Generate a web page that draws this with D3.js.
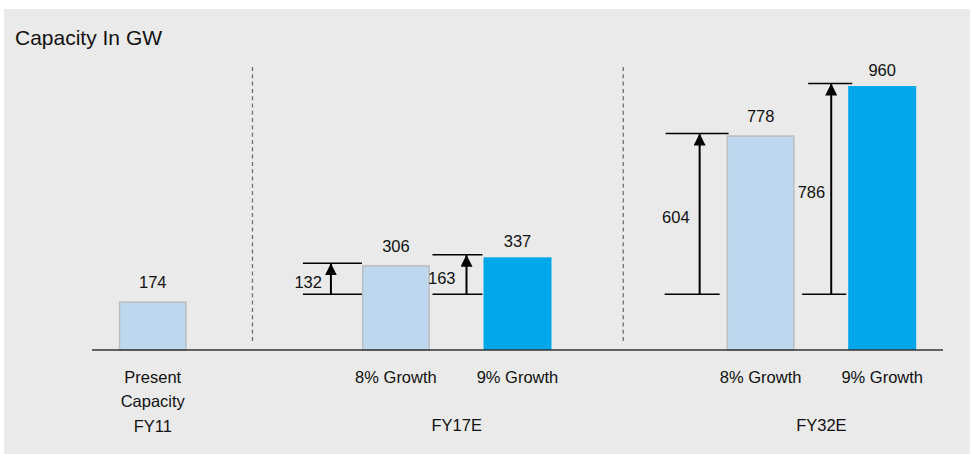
<!DOCTYPE html>
<html>
<head>
<meta charset="utf-8">
<script src="https://cdn.jsdelivr.net/npm/d3@7"></script>
<style>
  html, body { margin: 0; padding: 0; background: #fff; }
  svg text { font-family: "Liberation Sans", Arial, Helvetica, sans-serif; fill: #111; }
</style>
</head>
<body>
<svg id="chart" width="971" height="454"></svg>
<script>
// Data
const title = "Capacity In GW";
const barLabels = ["Present\nCapacity", "8% Growth", "9% Growth", "8% Growth", "9% Growth"];
const barValues = [174, 306, 337, 778, 960];
const barKinds = ["light", "light", "dark", "light", "dark"];
const barSlots = [0, 2, 3, 5, 6];          // position on a 7 slot grid
const groupNames = ["FY11", "FY17E", "FY32E"];
const groupSlots = [0, 2.5, 5.5];
const dividerSlots = [0.82, 3.87];
const increments = [132, 163, 604, 786];   // arrow labels
const incrementBars = [1, 2, 3, 4];        // which bar each arrow points at
const incrementFrom = [203, 203, 203, 203]; // arrow foot level, GW

const svg = d3.select("#chart");
const W = 971, H = 454;

// panel
svg.append("rect")
    .attr("x", 4).attr("y", 9)
    .attr("width", W - 5).attr("height", H - 9)
    .attr("fill", "#eaeaea");

svg.append("text")
    .attr("x", 15).attr("y", 45)
    .style("font-size", "21px")
    .text(title);

const baseY = 350;
const x = d3.scaleLinear().domain([-0.5, 6.5]).range([92, 943]);
const y = d3.scaleLinear().domain([0, 960]).range([baseY, 86]);
const barW = 68;

const colors = {
    light: { fill: "#bdd7ee", stroke: "#bdbdbd" },
    dark: { fill: "#00a8ea", stroke: "none" }
};

// dividers
svg.selectAll("line.divider")
    .data(dividerSlots)
    .enter().append("line")
    .attr("class", "divider")
    .attr("x1", d => x(d)).attr("x2", d => x(d))
    .attr("y1", 67).attr("y2", 344)
    .attr("stroke", "#707070")
    .attr("stroke-width", 1.3)
    .attr("stroke-dasharray", "4,3.3");

const bars = barValues.map((v, i) => ({
    value: v, label: barLabels[i], kind: barKinds[i], slot: barSlots[i]
}));

// bars
svg.selectAll("rect.bar")
    .data(bars)
    .enter().append("rect")
    .attr("class", "bar")
    .attr("x", d => x(d.slot) - barW / 2 + (d.kind == "light" ? 0.75 : 0))
    .attr("y", d => y(d.value))
    .attr("width", d => d.kind == "light" ? barW - 1.5 : barW)
    .attr("height", d => baseY - y(d.value))
    .attr("fill", d => colors[d.kind].fill)
    .attr("stroke", d => colors[d.kind].stroke)
    .attr("stroke-width", 1.5);

// value labels
svg.selectAll("text.value")
    .data(bars)
    .enter().append("text")
    .attr("class", "value")
    .attr("x", d => x(d.slot))
    .attr("y", d => y(d.value) - (d.kind == "light" ? 14 : 10))
    .attr("text-anchor", "middle")
    .style("font-size", "16.5px")
    .text(d => d.value);

// baseline
svg.append("line")
    .attr("x1", 92).attr("x2", 943)
    .attr("y1", baseY).attr("y2", baseY)
    .attr("stroke", "#333")
    .attr("stroke-width", 1.4);

// category labels
svg.selectAll("text.cat")
    .data(bars)
    .enter().append("text")
    .attr("class", "cat")
    .attr("text-anchor", "middle")
    .style("font-size", "16.5px")
    .each(function(d) {
        let t = d3.select(this);
        d.label.split("\n").forEach((line, k) => {
            t.append("tspan")
                .attr("x", x(d.slot))
                .attr("y", 383 + k * 23.5)
                .text(line);
        });
    });

svg.selectAll("text.group")
    .data(groupNames)
    .enter().append("text")
    .attr("class", "group")
    .attr("x", (d, i) => x(groupSlots[i]))
    .attr("y", (d, i) => i == 0 ? 432 : 430.5)
    .attr("text-anchor", "middle")
    .style("font-size", "16.5px")
    .text(d => d);

// growth arrows; offsets are relative to the target bar's left edge
const arrowLayout = [
    { l: -59, r: 0, lb: -59, rb: 0, ax: -31, tx: -40 },
    { l: -51, r: -1, lb: -51, rb: -1, ax: -17, tx: -28 },
    { l: -61, r: 2, lb: -62, rb: -7, ax: -27, tx: -37 },
    { l: -40, r: 4, lb: -46, rb: -2, ax: -17, tx: -23 }
];

svg.append("defs").append("marker")
    .attr("id", "head")
    .attr("viewBox", "0 0 12 12")
    .attr("refX", 12).attr("refY", 6)
    .attr("markerWidth", 12).attr("markerHeight", 12)
    .attr("markerUnits", "userSpaceOnUse")
    .attr("orient", "auto")
    .append("path")
    .attr("d", "M0,0 L12,6 L0,12 Z")
    .attr("fill", "#000");

const arrows = increments.map((v, i) => ({
    value: v, bar: bars[incrementBars[i]], from: incrementFrom[i], lay: arrowLayout[i]
}));

const ag = svg.selectAll("g.arrow")
    .data(arrows)
    .enter().append("g")
    .attr("class", "arrow")
    .attr("transform", d => "translate(" + (x(d.bar.slot) - barW / 2) + ",0)");

ag.append("line")
    .attr("x1", d => d.lay.l).attr("x2", d => d.lay.r)
    .attr("y1", d => y(d.bar.value) - 2.5).attr("y2", d => y(d.bar.value) - 2.5)
    .attr("stroke", "#000").attr("stroke-width", 1.5);

ag.append("line")
    .attr("x1", d => d.lay.lb).attr("x2", d => d.lay.rb)
    .attr("y1", d => y(d.from)).attr("y2", d => y(d.from))
    .attr("stroke", "#000").attr("stroke-width", 1.5);

ag.append("line")
    .attr("x1", d => d.lay.ax).attr("x2", d => d.lay.ax)
    .attr("y1", d => y(d.from)).attr("y2", d => y(d.bar.value) - 2.5)
    .attr("stroke", "#000").attr("stroke-width", 2)
    .attr("marker-end", "url(#head)");

ag.append("text")
    .attr("x", d => d.lay.tx)
    .attr("y", d => (y(d.from) + y(d.bar.value)) / 2 + 8)
    .attr("text-anchor", "end")
    .style("font-size", "16.5px")
    .text(d => d.value);
</script>
</body>
</html>
